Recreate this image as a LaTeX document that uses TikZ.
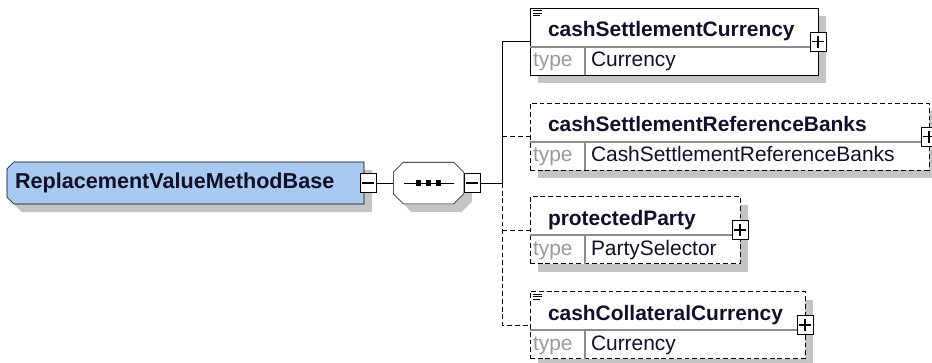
\documentclass[tikz,border=0pt]{standalone}
\usepackage{fontspec}
\setmainfont{Liberation Sans}
\usepackage{xcolor}
\usetikzlibrary{positioning,shadows,calc,backgrounds}
\definecolor{typeblue}{HTML}{A9C9F0}
\definecolor{shadowgray}{HTML}{C4C4C4}
\definecolor{labelgray}{HTML}{9A9A9A}
\definecolor{rulegray}{HTML}{8C8C8C}
\definecolor{inktext}{HTML}{10102A}

\begin{document}
\begin{tikzpicture}[x=0.75pt,y=-0.75pt,line width=1.5pt]
\tikzstyle{shade}=[drop shadow={shadow xshift=6pt,shadow yshift=-6pt,fill=shadowgray,opacity=1}]
\tikzstyle{ctype}=[rectangle,text width=255.75pt,align=left,inner xsep=5.25pt,inner ysep=0pt,minimum height=30pt,text=inktext,font=\fontsize{16.2}{18}\selectfont\bfseries]
\tikzstyle{seqbox}=[rectangle,minimum width=52.5pt,minimum height=30.75pt,inner sep=0pt]
\tikzstyle{toggle}=[rectangle,draw=black,fill=white,minimum width=12pt,minimum height=14.25pt,inner sep=0pt]
\tikzstyle{minusbox}=[toggle,path picture={\draw[line width=1.3pt] (path picture bounding box.center) +(-4.5pt,0) -- +(4.5pt,0);}]
\tikzstyle{plusbox}=[toggle,path picture={\draw[line width=1.3pt] (path picture bounding box.center) +(-4.5pt,0) -- +(4.5pt,0) (path picture bounding box.center) +(0,-4.5pt) -- +(0,4.5pt);}]
\tikzstyle{elem}=[rectangle,draw=black,fill=white,shade,minimum height=50.25pt,inner sep=0pt]
\tikzstyle{optelem}=[elem,dash pattern=on 3.6pt off 2.2pt]
\tikzstyle{head}=[anchor=base west,inner sep=0pt,text=inktext,font=\fontsize{15.7}{18}\selectfont\bfseries]
\tikzstyle{typelabel}=[anchor=base west,inner sep=0pt,text=labelgray,font=\fontsize{15.7}{18}\selectfont]
\tikzstyle{typename}=[anchor=base west,inner sep=0pt,text=inktext,font=\fontsize{15.7}{18}\selectfont]
\tikzstyle{rule}=[rulegray,line width=1.2pt]
\tikzstyle{dashline}=[dash pattern=on 3.6pt off 2.2pt]
\useasboundingbox (0,0) rectangle (932,362);

% complex type and its sequence
\node[ctype] (base) at (185.5,183) {ReplacementValueMethodBase};
\begin{pgfonlayer}{background}
\draw[shade,fill=typeblue] ([xshift=5pt]base.north west) -- (base.north east) -- (base.south east)
  -- ([xshift=5pt]base.south west) -- ([yshift=5pt]base.south west) -- ([yshift=-5pt]base.north west) -- cycle;
\end{pgfonlayer}
\node[minusbox] (basem) at ([xshift=3pt]base.east) {};
\node[seqbox, right=12.75pt of basem] (seq) {};
\draw[shade,fill=white] ([xshift=7.5pt]seq.north west) -- ([xshift=-7.5pt]seq.north east)
  -- ([yshift=-7.5pt]seq.north east) -- ([yshift=7.5pt]seq.south east)
  -- ([xshift=-7.5pt]seq.south east) -- ([xshift=7.5pt]seq.south west)
  -- ([yshift=7.5pt]seq.south west) -- ([yshift=-7.5pt]seq.north west) -- cycle;
\node[minusbox, anchor=west] (seqm) at (seq.east) {};
\draw ([xshift=-18.75pt]seq.center) -- ([xshift=18.75pt]seq.center);
\foreach \d in {-7.5pt,0pt,7.5pt}
  \fill ([xshift=\d]seq.center) +(-1.9pt,-1.9pt) rectangle +(1.9pt,1.9pt);
\coordinate (jn) at ($(seqm.east)+(22,0)$);

% child elements
\node[elem, minimum width=216pt] (curr) at (674,41.5) {};
\node[optelem, minimum width=299.25pt] (banks) at (729.5,136.5) {};
\node[optelem, minimum width=157.5pt] (party) at (635,230) {};
\node[optelem, minimum width=206.25pt] (coll) at (667.5,325) {};

\foreach \e/\h/\t in {curr/cashSettlementCurrency/Currency,
    banks/cashSettlementReferenceBanks/CashSettlementReferenceBanks,
    party/protectedParty/PartySelector,
    coll/cashCollateralCurrency/Currency} {
  \draw[rule] ([shift={(0,39)}]\e.north west) -- ([shift={(0,39)}]\e.north east);
  \draw[rule] ([shift={(55,39)}]\e.north west) -- ([shift={(55,0)}]\e.south west);
  \node[head] (\e h) at ([shift={(18,29)}]\e.north west) {\h};
  \node[typelabel] (\e l) at ([shift={(3,59)}]\e.north west) {type};
  \node[typename] (\e t) at ([shift={(61,59)}]\e.north west) {\t};
  \node[plusbox] (\e p) at (\e.east) {};
}
\foreach \e in {curr,coll}
  \draw[line width=1.1pt] ([shift={(3,3)}]\e.north west) -- ++(9,0)
    ([shift={(3,5.5)}]\e.north west) -- ++(9,0)
    ([shift={(3,8)}]\e.north west) -- ++(7,0);

% connectors
\draw (basem.east) -- (seq.west);
\draw (seqm.east) -- (jn);
\draw (jn) |- (curr.west);
\draw[dashline] (jn |- banks.west) -- (banks.west);
\draw[dashline] (jn |- party.west) -- (party.west);
\draw[dashline] (jn) |- (coll.west);
\end{tikzpicture}
\end{document}
